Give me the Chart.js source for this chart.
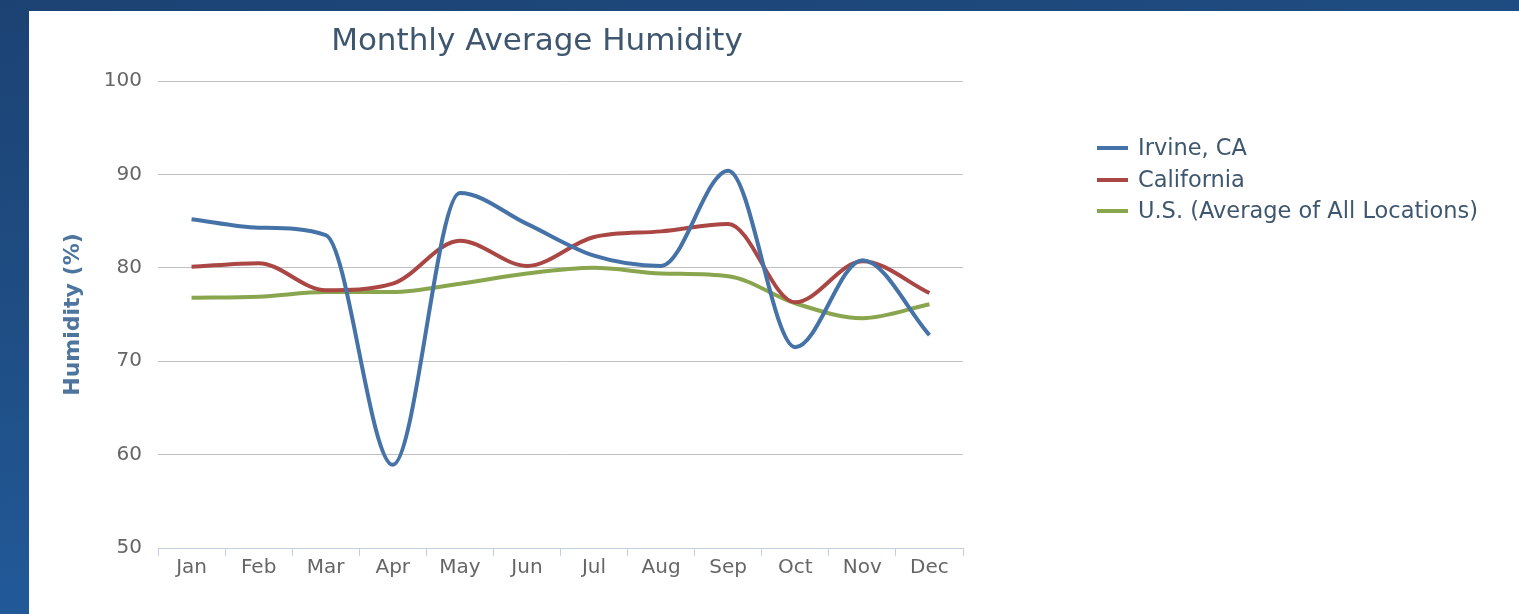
<!DOCTYPE html>
<html>
<head>
<meta charset="utf-8">
<script src="https://cdn.jsdelivr.net/npm/chart.js@4/dist/chart.umd.min.js"></script>
<style>
html,body{margin:0;padding:0;width:1519px;height:614px;overflow:hidden;}
body{background:linear-gradient(170deg,#1c4273 0%,#1f5088 45%,#2464ad 100%);position:relative;}
#panel{position:absolute;left:29px;top:11px;width:1490px;height:603px;background:#fff;}
#c{position:absolute;left:0;top:0;}
</style>
</head>
<body>
<div id="panel"></div>
<canvas id="c" width="1519" height="614"></canvas>
<script>
const chartTitle = "Monthly Average Humidity";
const yAxisTitle = "Humidity (%)";
const months = ["Jan","Feb","Mar","Apr","May","Jun","Jul","Aug","Sep","Oct","Nov","Dec"];
const seriesNames = ["Irvine, CA","California","U.S. (Average of All Locations)"];
const irvine = [85.2, 84.3, 83.5, 58.9, 88.0, 84.7, 81.3, 80.2, 90.4, 71.5, 80.8, 72.8];
const california = [80.1, 80.5, 77.6, 78.3, 82.9, 80.2, 83.3, 83.9, 84.7, 76.3, 80.7, 77.3];
const usAverage = [76.8, 76.9, 77.4, 77.4, 78.3, 79.4, 80.0, 79.4, 79.1, 76.2, 74.6, 76.1];
const yTicks = [50, 60, 70, 80, 90, 100];

const colors = ["#4572A7", "#AA4643", "#89A54E"];
const FONT = "'DejaVu Sans',sans-serif";

const decor = {
  id: 'decor',
  afterDraw(chart) {
    const ctx = chart.ctx;
    ctx.save();
    ctx.fillStyle = '#3E576F';
    ctx.font = "31px " + FONT;
    ctx.textAlign = 'center';
    ctx.textBaseline = 'alphabetic';
    ctx.fillText(chartTitle, 537, 50);
    const rows = [148, 180, 211];
    ctx.font = "22.5px " + FONT;
    ctx.textAlign = 'left';
    ctx.textBaseline = 'middle';
    chart.data.datasets.forEach((ds, i) => {
      ctx.strokeStyle = ds.borderColor;
      ctx.lineWidth = 4;
      ctx.beginPath();
      ctx.moveTo(1097, rows[i]);
      ctx.lineTo(1128, rows[i]);
      ctx.stroke();
      ctx.fillStyle = '#3E576F';
      ctx.fillText(ds.label, 1138, rows[i] + 1);
    });
    ctx.restore();
  }
};

new Chart(document.getElementById('c'), {
  type: 'line',
  data: {
    labels: months,
    datasets: [
      {label: seriesNames[0], data: irvine, borderColor: colors[0]},
      {label: seriesNames[1], data: california, borderColor: colors[1]},
      {label: seriesNames[2], data: usAverage, borderColor: colors[2]}
    ]
  },
  options: {
    responsive: false,
    animation: false,
    events: [],
    layout: {padding: {left: 0, right: 556, top: 81, bottom: 34}},
    elements: {
      line: {borderWidth: 4, tension: 0.4, cubicInterpolationMode: 'monotone', fill: false},
      point: {radius: 0}
    },
    plugins: {legend: {display: false}, title: {display: false}, tooltip: {enabled: false}},
    scales: {
      x: {
        offset: true,
        grid: {offset: true, drawOnChartArea: false, color: '#C0D0E0', tickLength: 8, lineWidth: 1},
        border: {color: '#C0D0E0', width: 1},
        ticks: {color: '#666666', font: {family: FONT, size: 20}, padding: 0, maxRotation: 0, autoSkip: false}
      },
      y: {
        min: 50, max: 100,
        afterFit: (s) => { s.width = 158; },
        afterBuildTicks: (s) => { s.ticks = yTicks.map(v => ({value: v})); },
        grid: {color: '#C0C0C0', drawTicks: false, lineWidth: 1},
        border: {display: false},
        ticks: {color: '#666666', font: {family: FONT, size: 20}, padding: 16},
        title: {display: true, text: yAxisTitle, color: '#4D759E', font: {family: FONT, size: 22, weight: 'bold'}, padding: {top: 60, bottom: 0}}
      }
    }
  },
  plugins: [decor]
});
</script>
</body>
</html>
